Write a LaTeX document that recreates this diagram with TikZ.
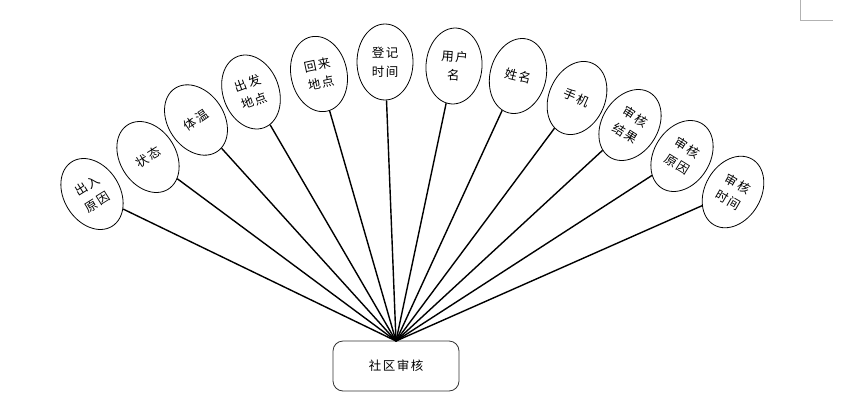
\documentclass[tikz,border=0pt]{standalone}
\usepackage{fontspec}
\newfontfamily\cjk[LetterSpace=12]{Noto Sans CJK SC}
\usetikzlibrary{shapes.geometric}
\begin{document}
\begin{tikzpicture}[x=1pt,y=-1pt,
  attr/.style={ellipse,draw=black,line width=0.8pt,minimum width=56pt,minimum height=76pt,inner sep=0pt,align=center,font=\cjk\fontsize{12.5}{19}\selectfont},
  link/.style={line width=1.4pt,black},
  mainbox/.style={draw=black!80,line width=0.8pt,rounded corners=10pt,minimum width=126pt,minimum height=50pt,font=\cjk\fontsize{12.5}{14}\selectfont},
  cornermark/.style={draw=black!30,line width=0.8pt}]
\path[use as bounding box] (0,0) rectangle (850,415);
\node[attr,rotate=32]  (e1)  at (92,194)  {出入\\原因};
\node[attr,rotate=32]  (e2)  at (148,157) {状态};
\node[attr,rotate=34]  (e3)  at (196,120) {体温};
\node[attr,rotate=20]  (e4)  at (251,92)  {出发\\地点};
\node[attr,rotate=12]  (e5)  at (319,74)  {回来\\地点};
\node[attr,rotate=0]   (e6)  at (385,62)  {登记\\时间};
\node[attr,rotate=-4]  (e7)  at (454,66)  {用户\\名};
\node[attr,rotate=-14] (e8)  at (518,76)  {姓名};
\node[attr,rotate=-24] (e9)  at (577,98)  {手机};
\node[attr,rotate=-32] (e10) at (630,125) {审核\\结果};
\node[attr,rotate=-32] (e11) at (682,156) {审核\\原因};
\node[attr,rotate=-30] (e12) at (733,192) {审核\\时间};
\node[mainbox] (box) at (396,366) {社区审核};
\coordinate (hub) at (396,341);
\foreach \i in {1,...,12} {\draw[link] (e\i) -- (hub);}
\coordinate (m1) at (800,0);
\coordinate (m2) at (800,20);
\coordinate (m3) at (833,20);
\draw[cornermark] (m1) -- (m2) -- (m3);
\end{tikzpicture}
\end{document}
